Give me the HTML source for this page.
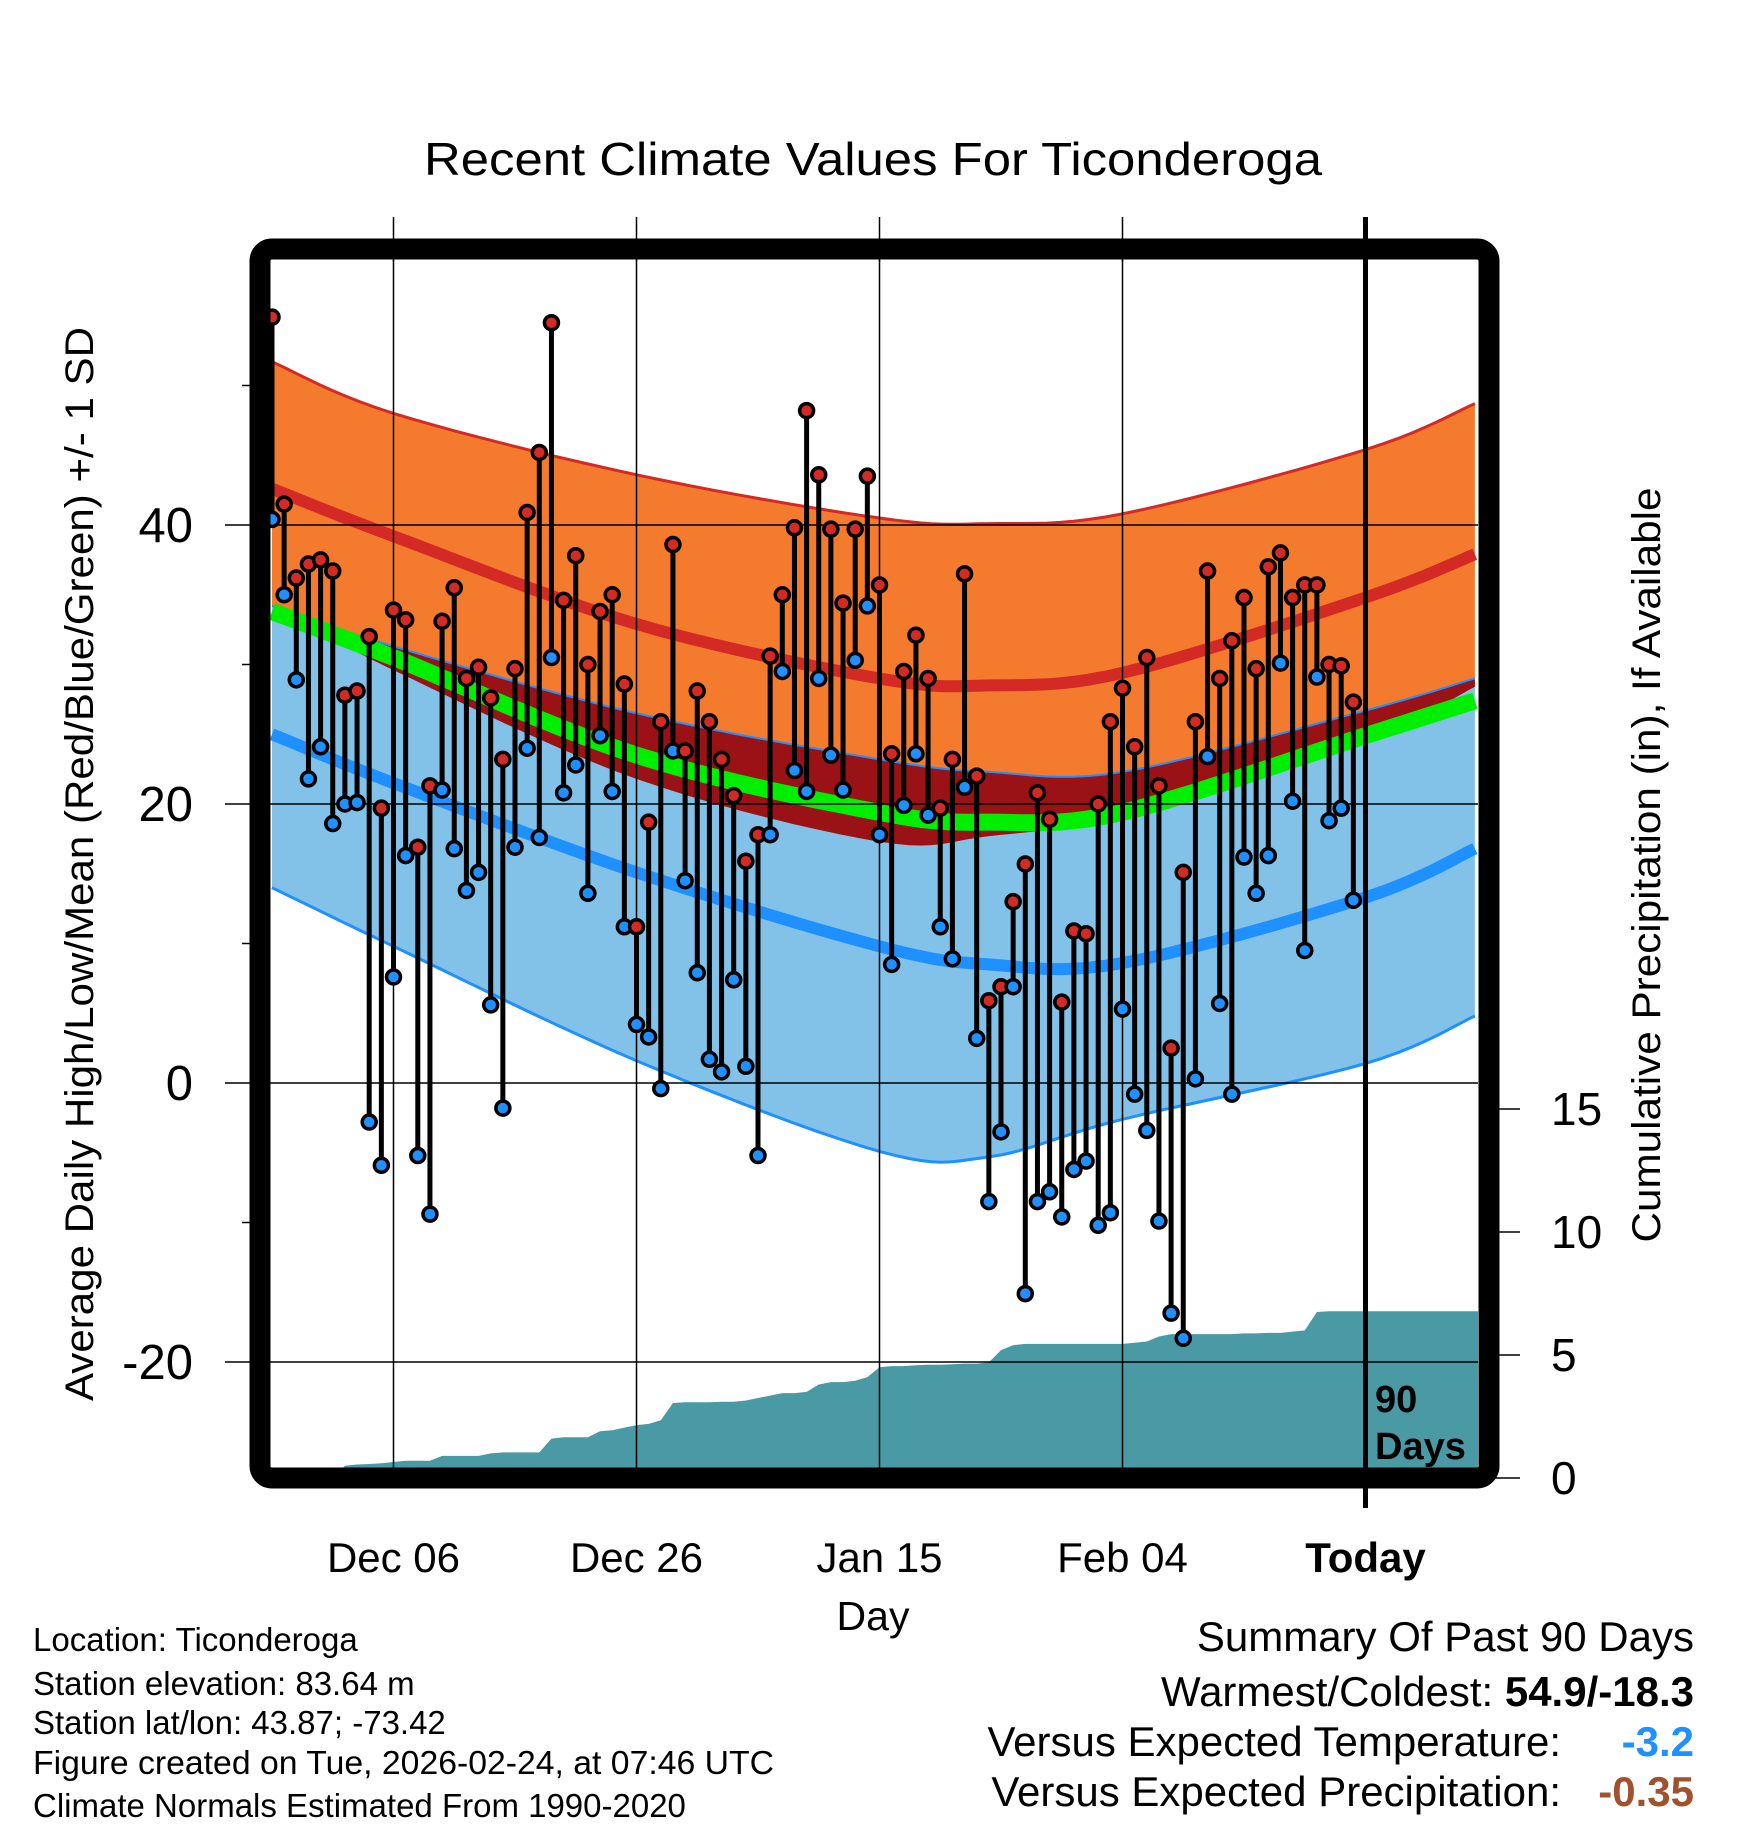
<!DOCTYPE html>
<html><head><meta charset="utf-8">
<style>
html,body{margin:0;padding:0;background:#fff;}
svg{display:block;font-family:"Liberation Sans",Arial,sans-serif;}
</style></head>
<body>
<svg id="chart" width="1748" height="1828" viewBox="0 0 1748 1828" xmlns="http://www.w3.org/2000/svg">
<defs><clipPath id="plotclip"><rect x="270" y="260" width="1208" height="1208"/></clipPath></defs>
<rect width="1748" height="1828" fill="#fff"/>
<text x="873" y="175" font-size="46" text-anchor="middle" textLength="898" lengthAdjust="spacingAndGlyphs">Recent Climate Values For Ticonderoga</text>
<g id="plot" clip-path="url(#plotclip)"></g>
<g id="over"></g>
<text transform="translate(93,864) rotate(-90)" font-size="40" text-anchor="middle" textLength="1074" lengthAdjust="spacingAndGlyphs">Average Daily High/Low/Mean (Red/Blue/Green) +/- 1 SD</text>
<text transform="translate(1660,865) rotate(-90)" font-size="40" text-anchor="middle" textLength="755" lengthAdjust="spacingAndGlyphs">Cumulative Precipitation (in), If Available</text>
<text x="873" y="1630" font-size="41" text-anchor="middle">Day</text>
<g font-size="33">
<text x="33" y="1651">Location: Ticonderoga</text>
<text x="33" y="1695">Station elevation: 83.64 m</text>
<text x="33" y="1734">Station lat/lon: 43.87; -73.42</text>
<text x="33" y="1774" textLength="741" lengthAdjust="spacingAndGlyphs">Figure created on Tue, 2026-02-24, at 07:46 UTC</text>
<text x="33" y="1817">Climate Normals Estimated From 1990-2020</text>
</g>
<g font-size="42" text-anchor="end">
<text x="1694" y="1651">Summary Of Past 90 Days</text>
<text x="1694" y="1706">Warmest/Coldest: <tspan font-weight="bold">54.9/-18.3</tspan></text>
<text x="1561" y="1756">Versus Expected Temperature:</text>
<text x="1694" y="1756" fill="#1e90ff" font-weight="bold">-3.2</text>
<text x="1561" y="1806">Versus Expected Precipitation:</text>
<text x="1694" y="1806" fill="#a0522d" font-weight="bold">-0.35</text>
</g>
</svg>
<script>
const highs=[54.9,41.5,36.2,37.2,37.5,36.7,27.8,28.1,32.0,19.7,33.9,33.2,16.9,21.3,33.1,35.5,29.0,29.8,27.6,23.2,29.7,40.9,45.2,54.5,34.6,37.8,30.0,33.8,35.0,28.6,11.2,18.7,25.9,38.6,23.8,28.1,25.9,23.2,20.6,15.9,17.8,30.6,35.0,39.8,48.2,43.6,39.7,34.4,39.7,43.5,35.7,23.6,29.5,32.1,29.0,19.7,23.2,36.5,22.0,5.9,6.9,13.0,15.7,20.8,18.9,5.8,10.9,10.7,20.0,25.9,28.3,24.1,30.5,21.3,2.5,15.1,25.9,36.7,29.0,31.7,34.8,29.7,37.0,38.0,34.8,35.7,35.7,30.0,29.9,27.3];
const lows=[40.4,35.0,28.9,21.8,24.1,18.6,20.0,20.1,-2.8,-5.9,7.6,16.3,-5.2,-9.4,21.0,16.8,13.8,15.1,5.6,-1.8,16.9,24.0,17.6,30.5,20.8,22.8,13.6,24.9,20.9,11.2,4.2,3.3,-0.4,23.8,14.5,7.9,1.7,0.8,7.4,1.2,-5.2,17.8,29.5,22.4,20.9,29.0,23.5,21.0,30.3,34.2,17.8,8.5,19.9,23.6,19.2,11.2,8.9,21.2,3.2,-8.5,-3.5,6.9,-15.1,-8.5,-7.8,-9.6,-6.2,-5.6,-10.2,-9.3,5.3,-0.8,-3.4,-9.9,-16.5,-18.3,0.3,23.4,5.7,-0.8,16.2,13.6,16.3,30.1,20.2,9.5,29.1,18.8,19.7,13.1];
const precip=[0,0,0,0,0,0,0.5,0.55,0.57,0.6,0.65,0.7,0.7,0.7,0.9,0.9,0.9,0.9,1.0,1.04,1.04,1.04,1.04,1.6,1.66,1.66,1.66,1.9,1.94,2.05,2.15,2.2,2.35,3.05,3.08,3.08,3.08,3.1,3.1,3.15,3.25,3.35,3.45,3.45,3.5,3.8,3.9,3.9,3.95,4.1,4.5,4.55,4.55,4.58,4.6,4.6,4.62,4.65,4.65,4.7,5.2,5.4,5.45,5.45,5.45,5.45,5.45,5.45,5.45,5.45,5.45,5.5,5.55,5.75,5.85,5.85,5.85,5.85,5.85,5.85,5.88,5.88,5.9,5.9,5.95,6.0,6.75,6.78,6.78,6.78];
const normDays=[0,10,30,50,59,70,90,99];
const hiUp=[51.7,48.0,43.6,40.5,40.1,40.8,45.4,48.7];
const hiMean=[42.6,39.2,32.9,29.0,28.5,29.4,34.8,37.9];
const hiDn=[34.2,29.6,21.8,17.3,17.7,19.2,24.6,28.4];
const avgMean=[33.8,30.5,23.5,19.4,18.7,19.4,24.9,27.4];
const loUp=[34.2,31.3,26.5,23.2,22.3,22.3,26.7,29.0];
const loMean=[25.0,21.5,15.1,9.8,8.5,8.6,13.3,16.8];
const loDn=[14.0,9.8,1.6,-4.9,-5.3,-2.6,1.4,4.8];
const xTickDays=[10,30,50,70,90];
const xTickLabels=["Dec 06","Dec 26","Jan 15","Feb 04","Today"];
const yTicks=[40,20,0,-20];
const yMinor=[50,30,10,-10];
const pTicks=[0,5,10,15];

const NS="http://www.w3.org/2000/svg";
const xS=i=>272+12.15*i;
const yS=v=>1083-13.95*v;
const pS=p=>1478-24.6*p;
function mk(tag,attrs,parent){const e=document.createElementNS(NS,tag);for(const k in attrs)e.setAttribute(k,attrs[k]);parent.appendChild(e);return e;}
const plot=document.getElementById('plot'), over=document.getElementById('over');
function smooth(days,vals){
  const pts=days.map((d,k)=>[xS(d),yS(vals[k])]);const out=[];
  for(let k=0;k<pts.length-1;k++){
    const p0=pts[Math.max(0,k-1)],p1=pts[k],p2=pts[k+1],p3=pts[Math.min(pts.length-1,k+2)];
    for(let t=0;t<1;t+=0.1){
      const t2=t*t,t3=t2*t;
      const f=(a,b,c,d)=>0.5*((2*b)+(-a+c)*t+(2*a-5*b+4*c-d)*t2+(-a+3*b-3*c+d)*t3);
      out.push([f(p0[0],p1[0],p2[0],p3[0]),f(p0[1],p1[1],p2[1],p3[1])]);
    }
  }
  out.push(pts[pts.length-1]);return out;
}
const P=a=>a.map(p=>p[0].toFixed(1)+','+p[1].toFixed(1)).join(' ');
function band(up,dn,fill,name){
  const a=smooth(normDays,up),b=smooth(normDays,dn).reverse();
  const e=mk('polygon',{points:P(a.concat(b)),fill:fill},plot);
  
  
}
function line(vals,color,w,name){
  const e=mk('polyline',{points:P(smooth(normDays,vals)),fill:'none',stroke:color,'stroke-width':w},plot);
  
  
}
band(loUp,loDn,'#82c1e8','low-sd-band');
band(hiUp,hiDn,'#f47a2e','high-sd-band');
band(loUp,hiDn,'#9a1116','overlap-band');
line(hiUp,'#d42a25',3,'high-upper-sd-line');
line(loUp,'#1e90ff',2,'low-upper-sd-line');
line(loDn,'#1e90ff',3,'low-lower-sd-line');
line(avgMean,'#00ee00',17,'mean-line');
line(hiMean,'#d42a25',12,'mean-high-line');
line(loMean,'#1e90ff',12,'mean-low-line');
const pp=[[xS(0),1478]];
precip.forEach((p,i)=>pp.push([xS(i),pS(p)]));
pp.push([1480,pS(precip[precip.length-1])]);pp.push([1480,1478]);
const pa=mk('polygon',{points:P(pp),fill:'#4a9aa5'},plot);


xTickDays.forEach((d,k)=>{
  const g=mk('line',{x1:xS(d),x2:xS(d),y1:217,y2:1508,stroke:'#000','stroke-width':k==4?5:1.5},k==4?over:plot);
  
  
  if(k<4){const t=mk('line',{x1:xS(d),x2:xS(d),y1:217,y2:262,stroke:'#000','stroke-width':1.5},over);
  
  }
  const lb=mk('text',{x:xS(d),y:1572,'font-size':42,'text-anchor':'middle','font-weight':k==4?'bold':'normal'},over);
  lb.textContent=xTickLabels[k];
  
  
});
yTicks.forEach(v=>{
  const g=mk('line',{x1:225,x2:1478,y1:yS(v),y2:yS(v),stroke:'#000','stroke-width':1.5},plot);
  
  
  const t=mk('line',{x1:225,x2:260,y1:yS(v),y2:yS(v),stroke:'#000','stroke-width':1.5},over);
  
  
  const lb=mk('text',{x:193,y:yS(v)+17,'font-size':49,'text-anchor':'end'},over);
  lb.textContent=String(v);
  
  
});
yMinor.forEach(v=>{
  const t=mk('line',{x1:242,x2:260,y1:yS(v),y2:yS(v),stroke:'#000','stroke-width':1.5},over);
  
  
});
pTicks.forEach(p=>{
  const t=mk('line',{x1:1489,x2:1520,y1:pS(p),y2:pS(p),stroke:'#000','stroke-width':1.5},over);
  
  
  const lb=mk('text',{x:1551,y:pS(p)+16,'font-size':46},over);
  lb.textContent=String(p);
  
  
});
highs.forEach((h,i)=>{
  const l=lows[i],x=xS(i);
  const s=mk('line',{x1:x,x2:x,y1:yS(h),y2:yS(l),stroke:'#000','stroke-width':5},plot);
  
  
});
highs.forEach((h,i)=>{
  const x=xS(i);
  const lo=mk('circle',{cx:x,cy:yS(lows[i]),r:7,fill:'#1e90ff',stroke:'#000','stroke-width':3.5},plot);
  
  
  const hi=mk('circle',{cx:x,cy:yS(h),r:7,fill:'#d42a25',stroke:'#000','stroke-width':3.5},plot);
  
  
});
const fr=mk('rect',{x:260,y:249,width:1229,height:1229,rx:12,fill:'none',stroke:'#000','stroke-width':21},over);


const d1=mk('text',{x:1375,y:1412,'font-size':38,'font-weight':'bold'},over);
d1.textContent='90';


const d2=mk('text',{x:1375,y:1459,'font-size':38,'font-weight':'bold'},over);
d2.textContent='Days';


</script>
</body></html>
